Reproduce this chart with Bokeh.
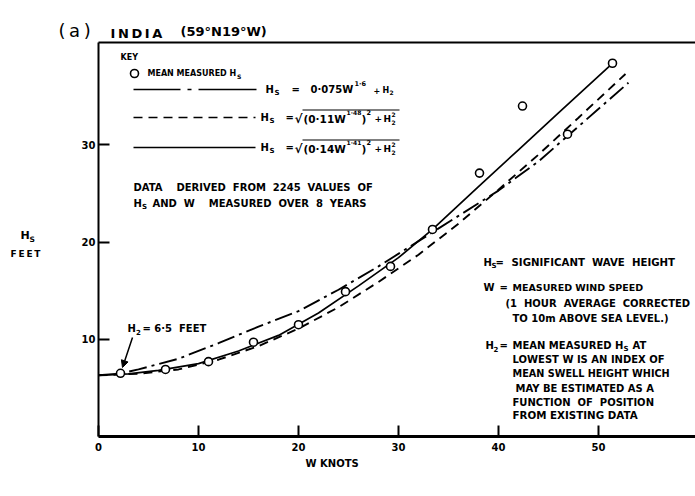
from bokeh.plotting import figure
from bokeh.models import Label, Arrow, NormalHead, LinearAxis, FixedTicker, Range1d
from bokeh.embed import file_html
from bokeh.resources import INLINE

FONT = "DejaVu Sans"
NB = "\u00a0"
TS = "\u2009"

# ---- data ----
W_measured = [2.2, 6.7, 11.0, 15.5, 20.0, 24.7, 29.2, 33.4, 38.1, 42.4, 46.9, 51.4]
Hs_measured = [6.5, 6.9, 7.7, 9.7, 11.5, 14.9, 17.5, 21.3, 27.1, 34.0, 31.1, 38.4]

W_solid = [0, 3, 6, 10, 14, 18, 22, 26, 30, 33.4, 38, 42, 46, 51.4]
Hs_solid = [6.3, 6.45, 6.8, 7.5, 8.8, 10.4, 12.7, 15.5, 18.4, 21.3, 25.7, 29.5, 33.3, 38.4]

W_dashed = [0, 4, 8, 12, 16, 20, 24, 28, 32, 36, 40, 44, 48, 52.7]
Hs_dashed = [6.3, 6.45, 6.9, 7.9, 9.3, 11.1, 13.3, 15.9, 18.7, 21.9, 25.4, 29.0, 32.8, 37.3]

W_dashdot = [0, 2, 4, 8, 12, 16, 20, 24, 28, 32, 36, 40, 44, 48, 53]
Hs_dashdot = [6.3, 6.45, 6.9, 8.0, 9.6, 11.3, 12.9, 15.1, 17.5, 20.1, 22.7, 25.3, 28.3, 31.9, 36.4]

x_ticks = [0, 10, 20, 30, 40, 50]
y_ticks = [10, 20, 30]
x_max = 59.7
y_max = 40.53

# ---- layout helpers (pixel -> data) ----
X0, XS = 98.0, 10.0
Y0, YS = 436.0, 9.72


def dx(px):
    return (px - X0) / XS


def dy(py):
    return (Y0 - py) / YS


p = figure(width=695, height=496, x_range=Range1d(dx(0), dx(695)), y_range=Range1d(dy(496), dy(0)),
           output_backend="svg", toolbar_location=None, min_border=0)
p.xgrid.visible = False
p.ygrid.visible = False
p.outline_line_color = None
p.background_fill_color = "white"
p.border_fill_color = "white"

for ax in (p.xaxis[0], p.yaxis[0]):
    ax.major_tick_in = 11
    ax.major_tick_out = 0
    ax.minor_tick_line_color = None
    ax.axis_line_color = "black"
    ax.major_tick_line_color = "black"
    ax.major_tick_line_width = 2
    ax.major_label_text_font = FONT
    ax.major_label_text_font_style = "bold"
    ax.major_label_text_font_size = "10px"
    ax.major_label_text_color = "black"
p.xaxis.ticker = x_ticks
p.yaxis.ticker = y_ticks
p.xaxis.fixed_location = 0
p.yaxis.fixed_location = 0
p.xaxis.bounds = (0, x_max)
p.yaxis.bounds = (0, y_max)
p.xaxis.axis_line_width = 3
p.yaxis.axis_line_width = 2
p.xaxis.major_label_standoff = 6
p.yaxis.major_label_standoff = 3

top = LinearAxis(ticker=FixedTicker(ticks=[]), fixed_location=y_max, bounds=(0, x_max),
                 axis_line_width=2, axis_line_color="black",
                 major_label_text_font_size="0px", major_tick_line_color=None,
                 minor_tick_line_color=None)
p.add_layout(top, "above")

# ---- curves and points ----
p.line(W_solid, Hs_solid, line_color="black", line_width=1.7)
p.line(W_dashed, Hs_dashed, line_color="black", line_width=1.9, line_dash="9 6")
p.line(W_dashdot, Hs_dashdot, line_color="black", line_width=1.9, line_dash="18 5 3 5")
p.scatter(W_measured, Hs_measured, marker="circle", size=8, fill_color="white",
          line_color="black", line_width=1.6)


def label(txt, px, py, size=10, style="bold"):
    p.add_layout(Label(x=dx(px), y=dy(py), text=txt.replace(" ", NB), text_font=FONT,
                       text_font_size=f"{size}px", text_font_style=style, text_align="left",
                       text_baseline="middle", text_color="black"))


def pieces(items, yc):
    for txt, x, off, size in items:
        label(txt, x, yc + off, size)


# ---- title ----
label("(" + TS + "a" + TS + ")", 58, 30, size=18, style="normal")
label(TS.join("INDIA"), 110, 33, size=13)
label("(59°N19°W)", 180, 31, size=13)

# ---- axis titles ----
pieces([("H", 20, 0, 11), ("S", 29, 4, 7.5)], 235)
label(TS.join("FEET"), 10, 253, size=9)
label("W KNOTS", 305, 463, size=10)

# ---- key ----
label("KEY", 120, 57, size=8)
p.scatter([dx(134)], [dy(73)], marker="circle", size=8, fill_color="white",
          line_color="black", line_width=1.6)
pieces([("MEAN MEASURED H", 147, 0, 8), ("S", 236.5, 3, 6)], 73)

p.line([dx(133), dx(256)], [dy(89), dy(89)], line_color="black", line_width=1.6,
       line_dash="47 7 4 7 60 10")
pieces([("H", 265, 0, 10), ("S", 274, 3, 7), ("=", 291, 0, 10), ("0·075W", 310, 0, 10),
        ("1·6", 354, -6, 6.5), ("+", 373, 0.5, 8), ("H", 382, 0.5, 8), ("2", 389, 3, 6)], 89)

for yc, coef, expo, dash in [(117, "(0·11W", "1·48", "9 6"), (147, "(0·14W", "1·41", None)]:
    if dash is None:
        p.line([dx(133), dx(255)], [dy(yc), dy(yc)], line_color="black", line_width=1.6)
    else:
        p.line([dx(133), dx(255)], [dy(yc), dy(yc)], line_color="black", line_width=1.6,
               line_dash=dash)
    pieces([("H", 260, 0, 10), ("S", 269, 3, 7), ("=", 285, 0, 10), ("√", 294, 1, 12),
            (coef, 303, 1, 10.5), (expo, 346, -5, 6), (")", 361, 1, 10.5), ("2", 366, -5, 6.5),
            ("+", 374, 1, 9), ("H", 383, 1, 9), ("2", 391, -3.5, 6), ("2", 391, 4.5, 6)], yc)
    p.segment(x0=[dx(302)], y0=[dy(yc - 7.5)], x1=[dx(399)], y1=[dy(yc - 7.5)],
              line_color="black", line_width=1.2)

label("DATA    DERIVED  FROM  2245  VALUES  OF", 133, 187, size=10)
pieces([("H", 133, 0, 10), ("S", 141.5, 3, 7),
        ("AND  W    MEASURED  OVER  8  YEARS", 152, 0, 10)], 203)

# ---- annotation ----
pieces([("H", 127, 0, 10), ("2", 135.5, 3, 7), ("= 6·5  FEET", 142, 0, 10)], 328)
p.add_layout(Arrow(end=NormalHead(size=7, fill_color="black", line_color="black"),
                   x_start=dx(132), y_start=dy(337), x_end=dx(122), y_end=dy(367),
                   line_width=1.5, line_color="black"))

# ---- notes ----
pieces([("H", 483, 0, 10), ("S", 491, 3, 7), ("=", 495, 0, 10),
        ("SIGNIFICANT  WAVE  HEIGHT", 511, 0, 10.2)], 262)
pieces([("W", 483, 0, 10), ("=", 499, 0, 10), ("MEASURED WIND SPEED", 512, 0, 9.5)], 287)
label("(1  HOUR  AVERAGE  CORRECTED", 505, 303, size=10)
label("TO 10m ABOVE SEA LEVEL.)", 512, 318, size=10)
pieces([("H", 485, 0, 10), ("2", 493, 3, 7), ("=", 499, 0, 10),
        ("MEAN MEASURED H", 512, 0, 10), ("S", 623, 3, 7), ("AT", 632, 0, 10)], 345)
label("LOWEST W IS AN INDEX OF", 512, 359, size=10)
label("MEAN SWELL HEIGHT WHICH", 512, 373, size=9.7)
label("MAY BE ESTIMATED AS A", 515, 388, size=10)
label("FUNCTION  OF  POSITION", 512, 402, size=10)
label("FROM EXISTING DATA", 512, 414, size=10.3)

open("out.html", "w").write(file_html(p, INLINE))
